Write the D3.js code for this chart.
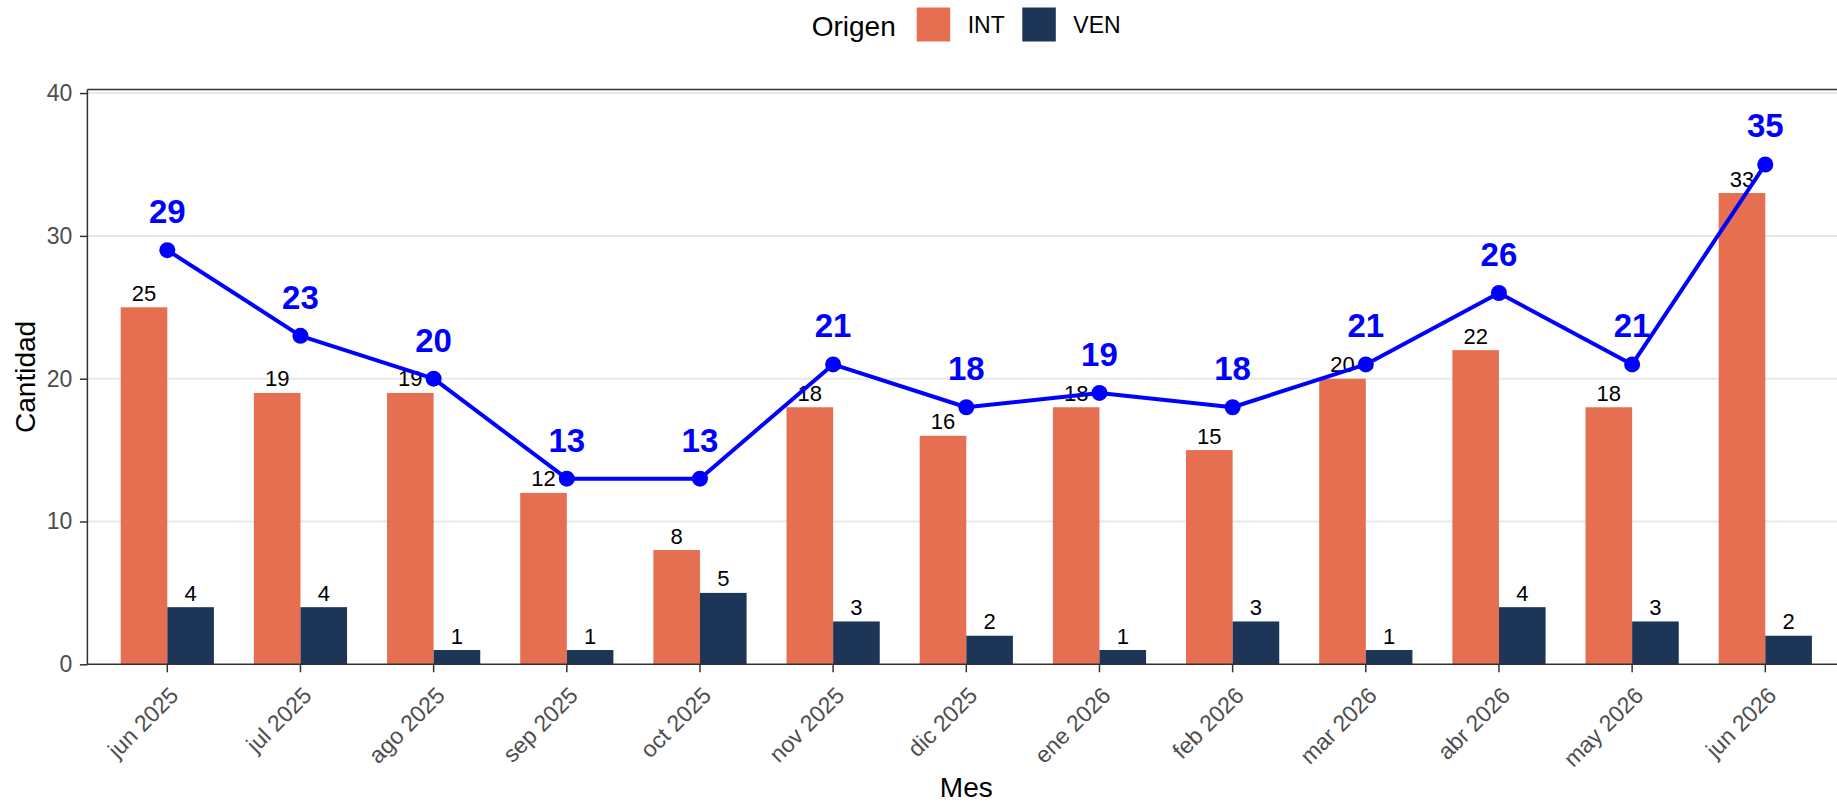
<!doctype html>
<html>

<head>
    <script src="https://cdnjs.cloudflare.com/ajax/libs/d3/7.8.5/d3.min.js"></script>
    <style>
        body {
            margin: 0;
            background: #ffffff;
        }

        svg text {
            font-family: "Liberation Sans", Arial, sans-serif;
        }
    </style>
</head>

<body>
    <div id="viz"></div>
    <script>
        // months shown on the x axis
        var months = ["jun 2025", "jul 2025", "ago 2025", "sep 2025", "oct 2025", "nov 2025", "dic 2025",
            "ene 2026", "feb 2026", "mar 2026", "abr 2026", "may 2026", "jun 2026"];
        var origins = ["INT", "VEN"];
        // counts per origin
        var intValues = [25, 19, 19, 12, 8, 18, 16, 18, 15, 20, 22, 18, 33];
        var venValues = [4, 4, 1, 1, 5, 3, 2, 1, 3, 1, 4, 3, 2];
        // total line
        var totalValues = [29, 23, 20, 13, 13, 21, 18, 19, 18, 21, 26, 21, 35];
        var yTicks = [0, 10, 20, 30, 40];

        var width = 1837, height = 804;
        var colors = { INT: "#E76F51", VEN: "#1D3557" };
        var panel = { left: 87.4, right: 1845.2, top: 89.5, bottom: 664.3 };

        var svg = d3.select("#viz")
            .append("svg")
            .attr("width", width)
            .attr("height", height);

        var x = d3.scaleBand()
            .domain(months)
            .range([panel.left, panel.right])
            .paddingInner(0)
            .paddingOuter(0.1);

        var xSub = d3.scaleBand()
            .domain(origins)
            .range([x.bandwidth() * 0.15, x.bandwidth() * 0.85]);

        var y = d3.scaleLinear()
            .domain([0, 40.25])
            .range([panel.bottom, panel.top]);

        var rows = months.map(function (m, i) {
            return { mes: m, INT: intValues[i], VEN: venValues[i], total: totalValues[i] };
        });

        // grid lines
        svg.append("g").selectAll("line")
            .data(yTicks.slice(1))
            .enter()
            .append("line")
            .attr("x1", panel.left)
            .attr("x2", width)
            .attr("y1", d => y(d))
            .attr("y2", d => y(d))
            .attr("stroke", "#E8E8E8")
            .attr("stroke-width", 2);

        // bars
        var groups = svg.append("g").selectAll("g")
            .data(rows)
            .enter()
            .append("g")
            .attr("transform", d => "translate(" + x(d.mes) + ",0)");

        groups.selectAll("rect")
            .data(d => origins.map(o => ({ key: o, value: d[o] })))
            .enter()
            .append("rect")
            .attr("x", d => xSub(d.key))
            .attr("width", xSub.bandwidth())
            .attr("y", d => y(d.value))
            .attr("height", d => y(0) - y(d.value))
            .attr("fill", d => colors[d.key]);

        groups.selectAll("text")
            .data(d => origins.map(o => ({ key: o, value: d[o] })))
            .enter()
            .append("text")
            .attr("x", d => xSub(d.key) + xSub.bandwidth() / 2)
            .attr("y", d => y(d.value) - 6.5)
            .attr("text-anchor", "middle")
            .attr("font-size", 22)
            .attr("fill", "#000000")
            .text(d => d.value);

        // axes lines
        var axisColor = "#333333";
        svg.append("line")
            .attr("x1", panel.left).attr("x2", width)
            .attr("y1", panel.top).attr("y2", panel.top)
            .attr("stroke", axisColor).attr("stroke-width", 1.5);
        svg.append("line")
            .attr("x1", panel.left).attr("x2", panel.left)
            .attr("y1", panel.top).attr("y2", panel.bottom)
            .attr("stroke", axisColor).attr("stroke-width", 1.5);
        svg.append("line")
            .attr("x1", panel.left - 0.75).attr("x2", width)
            .attr("y1", panel.bottom).attr("y2", panel.bottom)
            .attr("stroke", axisColor).attr("stroke-width", 1.5);

        // y axis
        var yAxis = svg.append("g")
            .attr("transform", "translate(" + panel.left + ",0)")
            .call(d3.axisLeft(y).tickValues(yTicks).tickSize(7.5).tickPadding(7.5));
        yAxis.select(".domain").remove();
        yAxis.selectAll(".tick line").attr("stroke", axisColor).attr("stroke-width", 1.5);
        yAxis.selectAll(".tick text")
            .attr("fill", "#4D4D4D")
            .attr("font-size", 23)
            .attr("font-family", "'Liberation Sans', Arial, sans-serif");

        // x axis
        var xAxis = svg.append("g")
            .attr("transform", "translate(0," + panel.bottom + ")")
            .call(d3.axisBottom(x).tickSize(8).tickPadding(0));
        xAxis.select(".domain").remove();
        xAxis.selectAll(".tick line").attr("stroke", axisColor).attr("stroke-width", 1.5);
        xAxis.selectAll(".tick text")
            .attr("fill", "#4D4D4D")
            .attr("font-size", 23)
            .attr("font-family", "'Liberation Sans', Arial, sans-serif")
            .attr("text-anchor", "end")
            .attr("y", 0)
            .attr("dy", "0.71em")
            .attr("transform", "translate(1,21) rotate(-45)");

        // total line + points
        var line = d3.line()
            .x(d => x(d.mes) + x.bandwidth() / 2)
            .y(d => y(d.total));

        svg.append("path")
            .datum(rows)
            .attr("d", line)
            .attr("fill", "none")
            .attr("stroke", "#0000FF")
            .attr("stroke-width", 4)
            .attr("stroke-linejoin", "round");

        svg.append("g").selectAll("circle")
            .data(rows)
            .enter()
            .append("circle")
            .attr("cx", d => x(d.mes) + x.bandwidth() / 2)
            .attr("cy", d => y(d.total))
            .attr("r", 8)
            .attr("fill", "#0000FF");

        svg.append("g").selectAll("text")
            .data(rows)
            .enter()
            .append("text")
            .attr("x", d => x(d.mes) + x.bandwidth() / 2)
            .attr("y", d => y(d.total) - 27)
            .attr("text-anchor", "middle")
            .attr("font-size", 33)
            .attr("font-weight", "bold")
            .attr("fill", "#0000FF")
            .text(d => d.total);

        // axis titles
        svg.append("text")
            .attr("x", (panel.left + panel.right) / 2)
            .attr("y", 797)
            .attr("text-anchor", "middle")
            .attr("font-size", 28)
            .attr("fill", "#000000")
            .text("Mes");

        svg.append("text")
            .attr("transform", "translate(35," + (panel.top + panel.bottom) / 2 + ") rotate(-90)")
            .attr("text-anchor", "middle")
            .attr("font-size", 28)
            .attr("fill", "#000000")
            .text("Cantidad");

        // legend
        var legend = svg.append("g");
        legend.append("text")
            .attr("x", 811.7)
            .attr("y", 36)
            .attr("font-size", 28)
            .attr("fill", "#000000")
            .text("Origen");

        var keyX = { INT: 916.7, VEN: 1022.3 };
        var items = legend.selectAll("g.item")
            .data(origins)
            .enter()
            .append("g")
            .attr("class", "item")
            .attr("transform", d => "translate(" + keyX[d] + ",7.5)");

        items.append("rect")
            .attr("width", 33.5)
            .attr("height", 34)
            .attr("fill", d => colors[d]);

        items.append("text")
            .attr("x", 51)
            .attr("y", 25.8)
            .attr("font-size", 23)
            .attr("fill", "#000000")
            .text(d => d);
    </script>
</body>

</html>
